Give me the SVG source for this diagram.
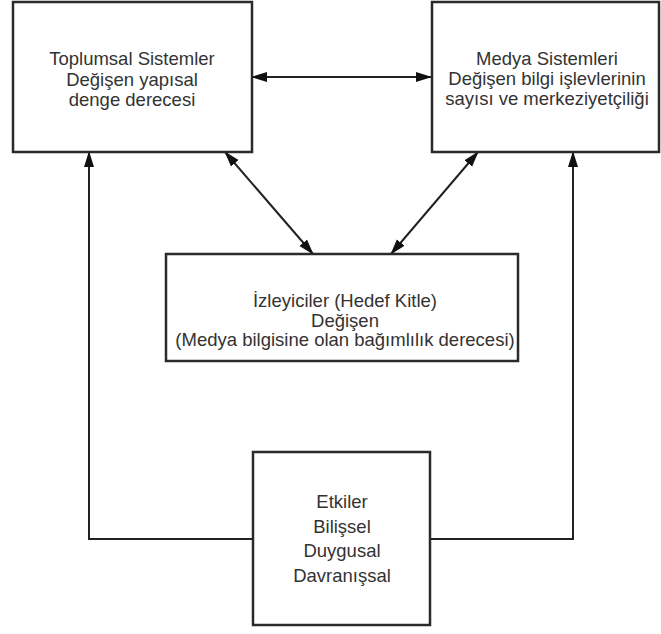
<svg xmlns="http://www.w3.org/2000/svg" width="661" height="634" viewBox="0 0 661 634">
<style>
.box{fill:#fff;stroke:#2a2a2a;stroke-width:2.5}
.t{font-family:"Liberation Sans",Arial,sans-serif;font-size:18.5px;fill:#333;text-anchor:middle}
.c{fill:none;stroke:#222;stroke-width:2}
</style>
<defs>
<marker id="ah" markerUnits="userSpaceOnUse" markerWidth="16" markerHeight="12" refX="15" refY="5" orient="auto-start-reverse" viewBox="0 0 16 10">
<path d="M0,0 L16,5 L0,10 z" fill="#111"/>
</marker>
</defs>
<rect width="661" height="634" fill="#fff"/>
<g id="connectors">
<line class="c" x1="252" y1="77" x2="431" y2="77" marker-start="url(#ah)" marker-end="url(#ah)"/>
<line class="c" x1="225" y1="152" x2="313" y2="254" marker-start="url(#ah)" marker-end="url(#ah)"/>
<line class="c" x1="478" y1="152" x2="391" y2="254" marker-start="url(#ah)" marker-end="url(#ah)"/>
<polyline class="c" points="253,539 89,539 89,152" marker-end="url(#ah)"/>
<polyline class="c" points="430,539 573,539 573,152" marker-end="url(#ah)"/>
</g>
<g id="toplumsal">
<rect class="box" x="13" y="2" width="239" height="150"/>
<text class="t" x="132" y="65">Toplumsal Sistemler</text>
<text class="t" x="132" y="86">Değişen yapısal</text>
<text class="t" x="132" y="106">denge derecesi</text>
</g>
<g id="medya">
<rect class="box" x="432" y="2" width="227" height="150"/>
<text class="t" x="547" y="65">Medya Sistemleri</text>
<text class="t" x="547" y="85">Değişen bilgi işlevlerinin</text>
<text class="t" x="547" y="105">sayısı ve merkeziyetçiliği</text>
</g>
<g id="izleyiciler">
<rect class="box" x="166" y="254" width="352" height="107"/>
<text class="t" x="345" y="307">İzleyiciler (Hedef Kitle)</text>
<text class="t" x="345" y="327">Değişen</text>
<text class="t" x="345" y="346">(Medya bilgisine olan bağımlılık derecesi)</text>
</g>
<g id="etkiler">
<rect class="box" x="253" y="452" width="177" height="173"/>
<text class="t" x="342" y="508">Etkiler</text>
<text class="t" x="342" y="533">Bilişsel</text>
<text class="t" x="342" y="557">Duygusal</text>
<text class="t" x="342" y="582">Davranışsal</text>
</g>
</svg>
